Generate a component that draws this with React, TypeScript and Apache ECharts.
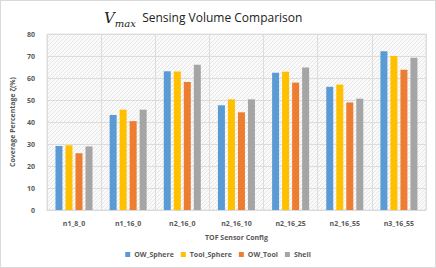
import React, { useEffect, useRef } from "react";
import * as echarts from "echarts";

const categories = ["n1_8_0", "n1_16_0", "n2_16_0", "n2_16_10", "n2_16_25", "n2_16_55", "n3_16_55"];
const owSphere = [29.1, 43.2, 63.1, 47.6, 62.4, 56.0, 72.2];
const toolSphere = [29.4, 45.6, 63.0, 50.3, 62.8, 57.0, 70.0];
const owTool = [25.8, 40.4, 58.2, 44.4, 57.9, 48.9, 63.7];
const shell = [28.9, 45.6, 66.0, 50.3, 64.8, 50.6, 69.2];
const seriesNames = ["OW_Sphere", "Tool_Sphere", "OW_Tool", "Shell"];
const colors = ["#5b9bd5", "#ffc000", "#ed7d31", "#a5a5a5"];

function hatchPattern(): string {
  const c = document.createElement("canvas");
  c.width = 4;
  c.height = 4;
  const ctx = c.getContext("2d");
  if (ctx) {
    ctx.fillStyle = "#fafafa";
    ctx.fillRect(0, 0, 4, 4);
    ctx.fillStyle = "#e6e6e6";
    ctx.fillRect(0, 3, 1, 1);
    ctx.fillRect(1, 2, 1, 1);
    ctx.fillRect(2, 1, 1, 1);
    ctx.fillRect(3, 0, 1, 1);
  }
  return c.toDataURL();
}

export default function App() {
  const ref = useRef<HTMLDivElement>(null);
  useEffect(() => {
    if (!ref.current) return;
    const chart = echarts.init(ref.current, null, { renderer: "svg" });
    const data = [owSphere, toolSphere, owTool, shell];
    const labelFont = { fontFamily: "Open Sans", fontSize: 7, fontWeight: "bold" as const, color: "#595959" };
    chart.setOption({
      animation: false,
      backgroundColor: "#ffffff",
      title: {
        text: "{v|V}{m|max}{t|  Sensing Volume Comparison}",
        left: 98,
        top: 4,
        textStyle: {
          fontWeight: "normal",
          rich: {
            v: { fontFamily: "DejaVu Serif", fontStyle: "italic", fontWeight: "normal", fontSize: 15, color: "#222", verticalAlign: "bottom" },
            m: { fontFamily: "DejaVu Serif", fontStyle: "italic", fontWeight: "normal", fontSize: 10, color: "#222", verticalAlign: "bottom", padding: [0, 0, -3, 0] },
            t: { fontFamily: "Open Sans", fontWeight: "normal", fontSize: 12, color: "#222" },
          },
        },
      },
      grid: {
        left: 38,
        right: 9,
        top: 33,
        bottom: 57,
        show: true,
        backgroundColor: { image: hatchPattern(), repeat: "repeat" },
        borderColor: "#e2e2e2",
        borderWidth: 1,
      },
      legend: {
        bottom: 4,
        left: "center",
        data: seriesNames,
        itemWidth: 5,
        itemHeight: 5,
        itemGap: 7,
        icon: "rect",
        textStyle: { ...labelFont, fontSize: 7, padding: [0, 0, 0, -1] },
      },
      xAxis: {
        type: "category",
        data: categories,
        name: "TOF Sensor Config",
        nameLocation: "middle",
        nameGap: 24,
        nameTextStyle: { ...labelFont },
        axisLine: { show: true, lineStyle: { color: "#d9d9d9" } },
        axisTick: { show: false },
        axisLabel: { ...labelFont, margin: 10 },
        splitLine: { show: true, lineStyle: { color: "#dcdcdc" } },
      },
      yAxis: {
        type: "value",
        min: 0,
        max: 80,
        interval: 10,
        name: "Coverage Percentage ζ(%)",
        nameLocation: "middle",
        nameGap: 22,
        nameTextStyle: { ...labelFont },
        axisLine: { show: false },
        axisTick: { show: false },
        axisLabel: { ...labelFont, margin: 12 },
        splitLine: { lineStyle: { color: "#dcdcdc" } },
      },
      series: seriesNames.map((name, i) => ({
        name,
        type: "bar",
        data: data[i],
        barWidth: 7,
        barGap: "43%",
        itemStyle: { color: colors[i] },
      })),
    });
    return () => chart.dispose();
  }, []);
  return (
    <div
      ref={ref}
      style={{ width: 436, height: 268, position: "absolute", left: 0, top: 0, boxSizing: "border-box", border: "1px solid #d9d9d9" }}
    />
  );
}
